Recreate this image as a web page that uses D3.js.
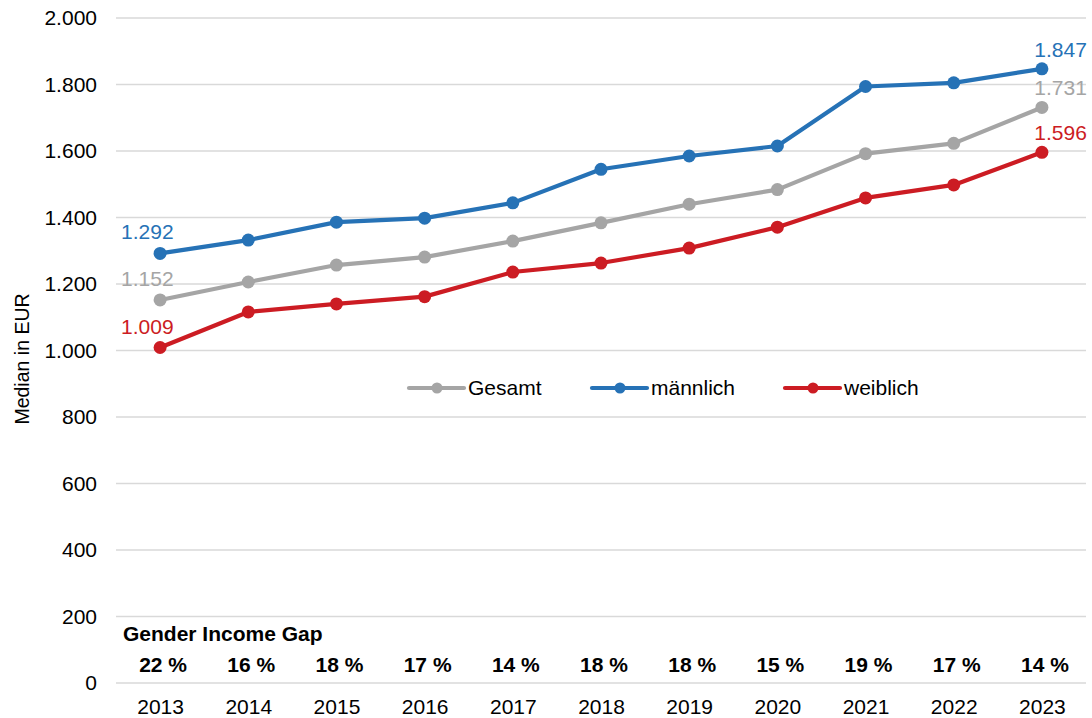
<!DOCTYPE html>
<html><head><meta charset="utf-8">
<script src="https://cdn.jsdelivr.net/npm/d3@7"></script>
<style>
html,body{margin:0;padding:0;background:#fff;}
text{font-family:"Liberation Sans",Arial,sans-serif;}
</style></head>
<body><svg id="chart" width="1092" height="718"></svg>
<script>
const years = ["2013","2014","2015","2016","2017","2018","2019","2020","2021","2022","2023"];
const gesamt = [1152,1206,1257,1281,1329,1384,1440,1484,1592,1623,1731];
const maennlich = [1292,1332,1386,1398,1444,1545,1585,1615,1794,1805,1847];
const weiblich = [1009,1116,1140,1162,1236,1263,1308,1371,1459,1498,1596];
const gap = ["22 %","16 %","18 %","17 %","14 %","18 %","18 %","15 %","19 %","17 %","14 %"];
const yTicks = [0,200,400,600,800,1000,1200,1400,1600,1800,2000];
const seriesNames = ["Gesamt","männlich","weiblich"];
const colors = ["#A5A5A5","#2672B6","#CC1C23"];

const fmt = v => d3.format(",")(v).replace(/,/g,".");
const svg = d3.select("#chart");
const L = 116, R = 1086, T = 18, B = 683;
const x = d3.scalePoint().domain(years).range([L,R]).padding(0.5);
const y = d3.scaleLinear().domain([0,2000]).range([B,T]);

// gridlines
svg.append("g").selectAll("line").data(yTicks).join("line")
  .attr("x1",L).attr("x2",R).attr("y1",d=>y(d)).attr("y2",d=>y(d))
  .attr("stroke","#D9D9D9").attr("stroke-width",1.5);

// y axis labels
const yAxis = d3.axisLeft(y).tickValues(yTicks).tickFormat(fmt).tickSize(0).tickPadding(0);
const ya = svg.append("g").attr("transform","translate(97,0)").call(yAxis);
ya.select(".domain").remove();
ya.selectAll("text").attr("font-size",21).attr("fill","#000").attr("font-family","Liberation Sans, Arial, sans-serif");

// x axis labels
const xAxis = d3.axisBottom(x).tickSize(0).tickPadding(0);
const xa = svg.append("g").attr("transform","translate(0,699)").call(xAxis);
xa.select(".domain").remove();
xa.selectAll("text").attr("font-size",21).attr("fill","#000").attr("font-family","Liberation Sans, Arial, sans-serif");

// y title
svg.append("text").attr("transform","translate(29,359) rotate(-90)")
  .attr("text-anchor","middle").attr("font-size",19.5).attr("fill","#000").text("Median in EUR");

// gender gap
svg.append("text").attr("x",123).attr("y",641).attr("font-size",21).attr("font-weight","bold").text("Gender Income Gap");
svg.append("g").selectAll("text").data(gap).join("text")
  .attr("x",(d,i)=>x(years[i])+3).attr("y",672).attr("text-anchor","middle")
  .attr("font-size",21).attr("font-weight","bold").text(d=>d);

// lines
const allSeries = [gesamt, maennlich, weiblich];
const line = d3.line().x((d,i)=>x(years[i])).y(d=>y(d));
allSeries.forEach((s,k)=>{
  const g = svg.append("g");
  g.append("path").datum(s).attr("d",line).attr("fill","none")
    .attr("stroke",colors[k]).attr("stroke-width",4.2).attr("stroke-linejoin","round");
  g.selectAll("circle").data(s).join("circle")
    .attr("cx",(d,i)=>x(years[i])).attr("cy",d=>y(d)).attr("r",6.5).attr("fill",colors[k]);
});

// data labels (first and last)
allSeries.forEach((s,k)=>{
  const first = 0, last = s.length-1;
  svg.append("text").attr("font-size",21).attr("fill",colors[k])
    .attr("text-anchor","start").attr("x",x(years[first])-39).attr("y",y(s[first])-14).text(fmt(s[first]));
  svg.append("text").attr("font-size",21).attr("fill",colors[k])
    .attr("text-anchor","end").attr("x",x(years[last])+45).attr("y",y(s[last])-12).text(fmt(s[last]));
});

// legend
const legX = [409, 592, 785];
const legY = 388;
seriesNames.forEach((n,k)=>{
  const g = svg.append("g").attr("transform",`translate(${legX[k]},${legY})`);
  g.append("line").attr("x1",0).attr("x2",55).attr("y1",0).attr("y2",0)
    .attr("stroke",colors[k]).attr("stroke-width",4.2).attr("stroke-linecap","round");
  g.append("circle").attr("cx",28).attr("cy",0).attr("r",5.5).attr("fill",colors[k]);
  g.append("text").attr("x",59).attr("y",0).attr("dy","0.35em").attr("font-size",21).attr("fill","#000").text(n);
});
</script></body></html>
